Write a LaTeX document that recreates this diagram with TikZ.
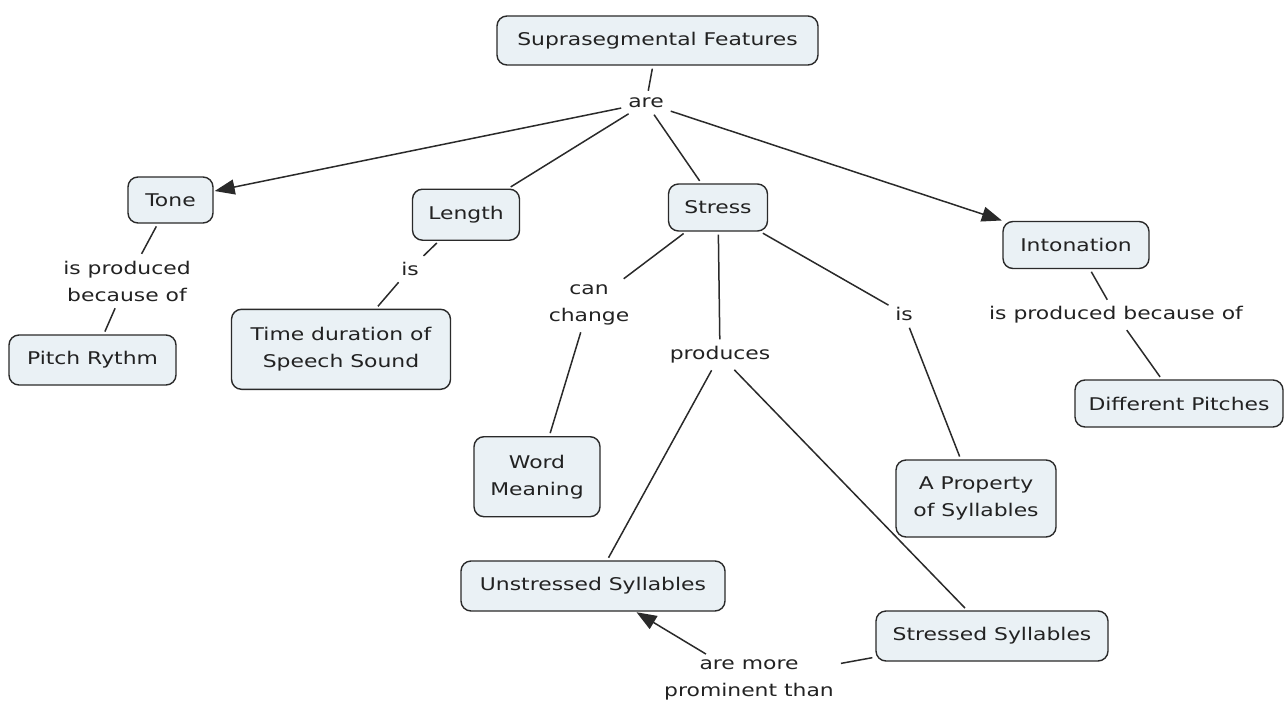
\documentclass[tikz,border=0pt]{standalone}
\usepackage{fontspec}
\setmainfont{DejaVu Sans}[FakeStretch=1.25]
\usetikzlibrary{arrows.meta}
\definecolor{boxfill}{HTML}{EAF1F5}
\definecolor{linecol}{HTML}{2A2A2A}
\definecolor{txtcol}{HTML}{222222}
\tikzset{
  concept/.style={draw=linecol, fill=boxfill, rounded corners=10pt, line width=1.4pt,
    inner sep=0pt, align=center, text=txtcol, font=\fontsize{17.5}{27}\selectfont},
  linklabel/.style={inner sep=4pt, align=center, text=txtcol, font=\fontsize{17.5}{27}\selectfont},
  conn/.style={draw=linecol, line width=1.5pt, shorten <=3pt, shorten >=3pt},
  arr/.style={conn, shorten >=1pt, -{Triangle[length=20pt,width=15pt]}}
}
\begin{document}
\begin{tikzpicture}[x=1pt,y=-1pt]
\useasboundingbox (0,0) rectangle (1284,706);
% concepts
\node[concept, minimum width=321pt, minimum height=49pt] (sf) at (657.5,40.5) {Suprasegmental Features};
\node[concept, minimum width=85pt, minimum height=46pt] (tone) at (170.5,200) {Tone};
\node[concept, minimum width=107pt, minimum height=51pt] (length) at (466,214.7) {Length};
\node[concept, minimum width=99pt, minimum height=47pt] (stress) at (718,207.5) {Stress};
\node[concept, minimum width=146pt, minimum height=47pt] (inton) at (1076,245) {Intonation};
\node[concept, minimum width=167pt, minimum height=50pt] (pitch) at (92.5,360) {Pitch Rythm};
\node[concept, minimum width=219pt, minimum height=80pt] (time) at (341,349.3) {Time duration of\\Speech Sound};
\node[concept, minimum width=208pt, minimum height=47pt] (diff) at (1179,403.5) {Different Pitches};
\node[concept, minimum width=126pt, minimum height=80pt] (word) at (537,476.7) {Word\\Meaning};
\node[concept, minimum width=160pt, minimum height=77pt] (prop) at (976,498.5) {A Property\\of Syllables};
\node[concept, minimum width=264pt, minimum height=50pt] (unstr) at (593,586) {Unstressed Syllables};
\node[concept, minimum width=232pt, minimum height=50pt] (str) at (992,636) {Stressed Syllables};
% link labels
\node[linklabel] (are) at (646,103) {are};
\node[linklabel] (l1) at (127,281) {is produced\\because of};
\node[linklabel] (l2) at (410,269) {is};
\node[linklabel] (l3) at (589,305) {can\\change};
\node[linklabel] (l4) at (720,355) {produces};
\node[linklabel] (l5) at (904,314) {is};
\node[linklabel] (l6) at (1116,315) {is produced because of};
\node[linklabel] (l7) at (749,680) {are more\\prominent than};
% connectors
\draw[conn] (sf) -- (are);
\draw[arr] (are) -- (tone);
\draw[conn] (are) -- (length);
\draw[conn] (are) -- (stress);
\draw[arr] (are) -- (inton);
\draw[conn] (tone) -- (l1);
\draw[conn] (l1) -- (pitch);
\draw[conn] (length) -- (l2);
\draw[conn] (l2) -- (time);
\draw[conn] (stress) -- (l3);
\draw[conn] (l3) -- (word);
\draw[conn] (stress) -- (l4);
\draw[conn] (l4) -- (unstr);
\draw[conn] (l4) -- (str);
\draw[conn] (stress) -- (l5);
\draw[conn] (l5) -- (prop);
\draw[conn] (inton) -- (l6);
\draw[conn] (l6) -- (diff);
\draw[conn] (str) -- (l7);
\draw[arr] (l7) -- (unstr);
\end{tikzpicture}
\end{document}
